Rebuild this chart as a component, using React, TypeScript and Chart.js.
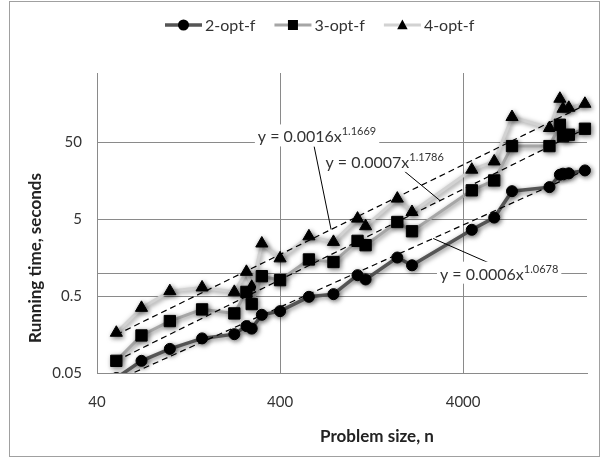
import React, { useEffect, useRef } from 'react';
import { Chart, registerables } from 'chart.js';

Chart.register(...registerables);

// ---------- data ----------
const problemSizes = [51, 70, 100, 150, 225, 262, 280, 318, 400, 575, 783, 1060, 1173, 1748, 2103, 4461, 5915, 7397, 11849, 13509, 14051, 15112, 18512];
const twoOptF = [0.043, 0.072, 0.103, 0.141, 0.16, 0.204, 0.189, 0.286, 0.319, 0.49, 0.531, 0.937, 0.824, 1.59, 1.26, 3.65, 5.26, 11.6, 13.1, 19.0, 19.6, 19.8, 21.6];
const threeOptF = [0.072, 0.154, 0.237, 0.336, 0.298, 0.568, 0.394, 0.909, 0.807, 1.5, 1.39, 2.62, 2.3, 4.61, 3.49, 11.9, 16.0, 44.8, 44.8, 84.9, 60.4, 63, 75.3];
const fourOptF = [0.167, 0.352, 0.581, 0.649, 0.568, 1.035, 0.661, 2.42, 1.55, 3.0, 2.54, 5.1, 4.06, 9.29, 6.22, 22.1, 28.3, 107, 77, 185, 137, 141, 159];
const seriesNames = ['2-opt-f', '3-opt-f', '4-opt-f'];

const xTicks = [40, 400, 4000];
const yTicks = [0.05, 0.5, 5, 50];
const yExtraGrid = [1];

// power-law trendlines  y = a * x^b  (as printed on the chart)
const trendCoefficients = [0.0006, 0.0007, 0.0016];
const trendExponents = [1.0678, 1.1786, 1.1669];
const trendCoefText = ['0.0006', '0.0007', '0.0016'];
const trendExpText = ['1.0678', '1.1786', '1.1669'];

// annotation anchors in data space (problem size, seconds)
const labelCenterN = [6293, 1490, 637];
const labelCenterT = [0.98, 27.9, 59.8];
const leaderStartN = [6057, 1857, 614];
const leaderStartT = [1.23, 22.3, 44.4];
const leaderEndN = [2744, 2994, 760];

const FONT = 'Lato, "Open Sans", sans-serif';

const trendValue = (i: number, n: number) => trendCoefficients[i] * Math.pow(n, trendExponents[i]);

const shadowPlugin = {
  id: 'shadowPlugin',
  beforeDatasetDraw(chart: any, args: any) {
    const ds = chart.data.datasets[args.index];
    const ctx = chart.ctx;
    ctx.save();
    if (!ds.isTrend) {
      ctx.shadowColor = 'rgba(0,0,0,0.5)';
      ctx.shadowBlur = 5;
      ctx.shadowOffsetX = 1.5;
      ctx.shadowOffsetY = 1.5;
    }
  },
  afterDatasetDraw(chart: any) {
    chart.ctx.restore();
  },
};

function drawMarker(ctx: CanvasRenderingContext2D, style: string, x: number, y: number, r: number) {
  ctx.beginPath();
  if (style === 'circle') {
    ctx.arc(x, y, r, 0, Math.PI * 2);
  } else if (style === 'rect') {
    ctx.rect(x - r, y - r, 2 * r, 2 * r);
  } else {
    ctx.moveTo(x, y - r);
    ctx.lineTo(x + r * 0.95, y + r * 0.75);
    ctx.lineTo(x - r * 0.95, y + r * 0.75);
    ctx.closePath();
  }
  ctx.fill();
}

const decorPlugin = {
  id: 'decorPlugin',
  afterDatasetsDraw(chart: any) {
    const ctx: CanvasRenderingContext2D = chart.ctx;
    const xs = chart.scales.x;
    const ys = chart.scales.y;
    ctx.save();
    for (let i = 0; i < trendCoefficients.length; i++) {
      const sx = xs.getPixelForValue(leaderStartN[i]);
      const sy = ys.getPixelForValue(leaderStartT[i]);
      const ex = xs.getPixelForValue(leaderEndN[i]);
      const ey = ys.getPixelForValue(trendValue(i, leaderEndN[i]));
      ctx.strokeStyle = '#000';
      ctx.lineWidth = 1;
      ctx.setLineDash([]);
      ctx.beginPath();
      ctx.moveTo(sx, sy);
      ctx.lineTo(ex, ey);
      ctx.stroke();

      const cx = xs.getPixelForValue(labelCenterN[i]);
      const cy = ys.getPixelForValue(labelCenterT[i]);
      const main = `y = ${trendCoefText[i]}x`;
      const sup = trendExpText[i];
      ctx.font = `16px ${FONT}`;
      const wMain = ctx.measureText(main).width;
      ctx.font = `11px ${FONT}`;
      const wSup = ctx.measureText(sup).width;
      const total = wMain + wSup;
      const left = cx - total / 2;
      ctx.fillStyle = '#fff';
      ctx.fillRect(left - 3, cy - 12, total + 6, 22);
      ctx.fillStyle = '#333';
      ctx.textAlign = 'left';
      ctx.textBaseline = 'alphabetic';
      ctx.font = `16px ${FONT}`;
      ctx.fillText(main, left, cy + 6);
      ctx.font = `11px ${FONT}`;
      ctx.fillText(sup, left + wMain, cy - 1);
    }
    ctx.restore();
  },
  afterDraw(chart: any) {
    const ctx: CanvasRenderingContext2D = chart.ctx;
    ctx.save();
    // legend
    const metas = chart.data.datasets.filter((d: any) => !d.isTrend);
    let x = 165;
    const ly = 25;
    ctx.font = `16px ${FONT}`;
    ctx.textBaseline = 'middle';
    ctx.textAlign = 'left';
    metas.forEach((d: any) => {
      ctx.strokeStyle = d.borderColor;
      ctx.lineWidth = d.borderWidth;
      ctx.beginPath();
      ctx.moveTo(x, ly);
      ctx.lineTo(x + 37, ly);
      ctx.stroke();
      ctx.fillStyle = '#000';
      const r = d.pointStyle === 'circle' ? 5.5 : d.pointStyle === 'rect' ? 5 : 5.5;
      drawMarker(ctx, d.pointStyle, x + 18.5, ly, r);
      ctx.fillStyle = '#333';
      ctx.fillText(d.label, x + 40, ly + 1);
      const w = ctx.measureText(d.label).width;
      x += 40 + w + 19;
    });
    // axis titles
    ctx.fillStyle = '#222';
    ctx.font = `bold 17px ${FONT}`;
    ctx.textAlign = 'center';
    ctx.textBaseline = 'middle';
    ctx.fillText('Problem size, n', 377, 437);
    ctx.save();
    ctx.translate(36, 258);
    ctx.rotate(-Math.PI / 2);
    ctx.fillText('Running time, seconds', 0, 0);
    ctx.restore();
    // outer frame
    ctx.strokeStyle = '#a0a0a0';
    ctx.lineWidth = 1;
    ctx.strokeRect(9.5, 1.5, 590, 455);
    ctx.restore();
  },
};

export default function App() {
  const canvasRef = useRef<HTMLCanvasElement | null>(null);

  useEffect(() => {
    if (!canvasRef.current) return;
    const toPoints = (vals: number[]) => problemSizes.map((n, i) => ({ x: n, y: vals[i] }));
    const firstN = problemSizes[0];
    const lastN = problemSizes[problemSizes.length - 1];
    const trend = (i: number) => ({
      label: 'trend ' + seriesNames[i],
      isTrend: true,
      data: [
        { x: firstN, y: trendValue(i, firstN) },
        { x: lastN, y: trendValue(i, lastN) },
      ],
      borderColor: '#000',
      borderWidth: 1.2,
      borderDash: [6, 4],
      pointRadius: 0,
      order: 0,
      clip: { left: 0, right: 0, top: 0, bottom: 0 },
    });
    const clip = { left: 0, right: 10, top: 10, bottom: 0 };
    const chart = new Chart(canvasRef.current, {
      type: 'line',
      data: {
        datasets: [
          trend(0),
          trend(1),
          trend(2),
          {
            label: seriesNames[0],
            data: toPoints(twoOptF),
            borderColor: '#555555',
            borderWidth: 3.5,
            pointStyle: 'circle',
            pointRadius: 5.5,
            pointBackgroundColor: '#000',
            pointBorderColor: '#000',
            pointBorderWidth: 1,
            order: 1,
            clip,
          },
          {
            label: seriesNames[1],
            data: toPoints(threeOptF),
            borderColor: '#a6a6a6',
            borderWidth: 3,
            pointStyle: 'rect',
            pointRadius: 8,
            pointBackgroundColor: '#000',
            pointBorderColor: '#000',
            pointBorderWidth: 1,
            order: 1,
            clip,
          },
          {
            label: seriesNames[2],
            data: toPoints(fourOptF),
            borderColor: '#d2d2d2',
            borderWidth: 3,
            pointStyle: 'triangle',
            pointRadius: 7,
            pointBackgroundColor: '#000',
            pointBorderColor: '#000',
            pointBorderWidth: 1,
            order: 1,
            clip,
          },
        ] as any,
      },
      options: {
        animation: false,
        responsive: false,
        layout: { padding: { top: 73, right: 18, left: 0, bottom: 0 } },
        plugins: { legend: { display: false }, tooltip: { enabled: false } },
        scales: {
          x: {
            type: 'logarithmic',
            min: 40,
            max: 19000,
            afterBuildTicks: (scale: any) => {
              scale.ticks = xTicks.map((v) => ({ value: v }));
            },
            afterFit: (scale: any) => {
              scale.height = 86;
            },
            ticks: {
              padding: 20,
              color: '#333',
              font: { family: FONT, size: 15 },
              callback: (v: any) => String(v),
              maxRotation: 0,
              autoSkip: false,
            },
            grid: { color: '#8a8a8a', lineWidth: 1, drawTicks: false },
            border: { display: true, color: '#8a8a8a' },
          },
          y: {
            type: 'logarithmic',
            min: 0.05,
            max: 400,
            afterBuildTicks: (scale: any) => {
              scale.ticks = [...yTicks, ...yExtraGrid].sort((a, b) => a - b).map((v) => ({ value: v }));
            },
            afterFit: (scale: any) => {
              scale.width = 97;
            },
            ticks: {
              padding: 15,
              color: '#333',
              font: { family: FONT, size: 15 },
              callback: (v: any) => (yTicks.includes(Number(v)) ? String(v) : ''),
              autoSkip: false,
            },
            grid: { color: '#8a8a8a', lineWidth: 1, drawTicks: false },
            border: { display: true, color: '#8a8a8a' },
          },
        },
      } as any,
      plugins: [shadowPlugin, decorPlugin],
    });
    return () => chart.destroy();
  }, []);

  return (
    <div style={{ position: 'absolute', left: 0, top: 0, width: 605, height: 459, background: '#fff' }}>
      <canvas ref={canvasRef} width={605} height={459} style={{ display: 'block' }} />
    </div>
  );
}
